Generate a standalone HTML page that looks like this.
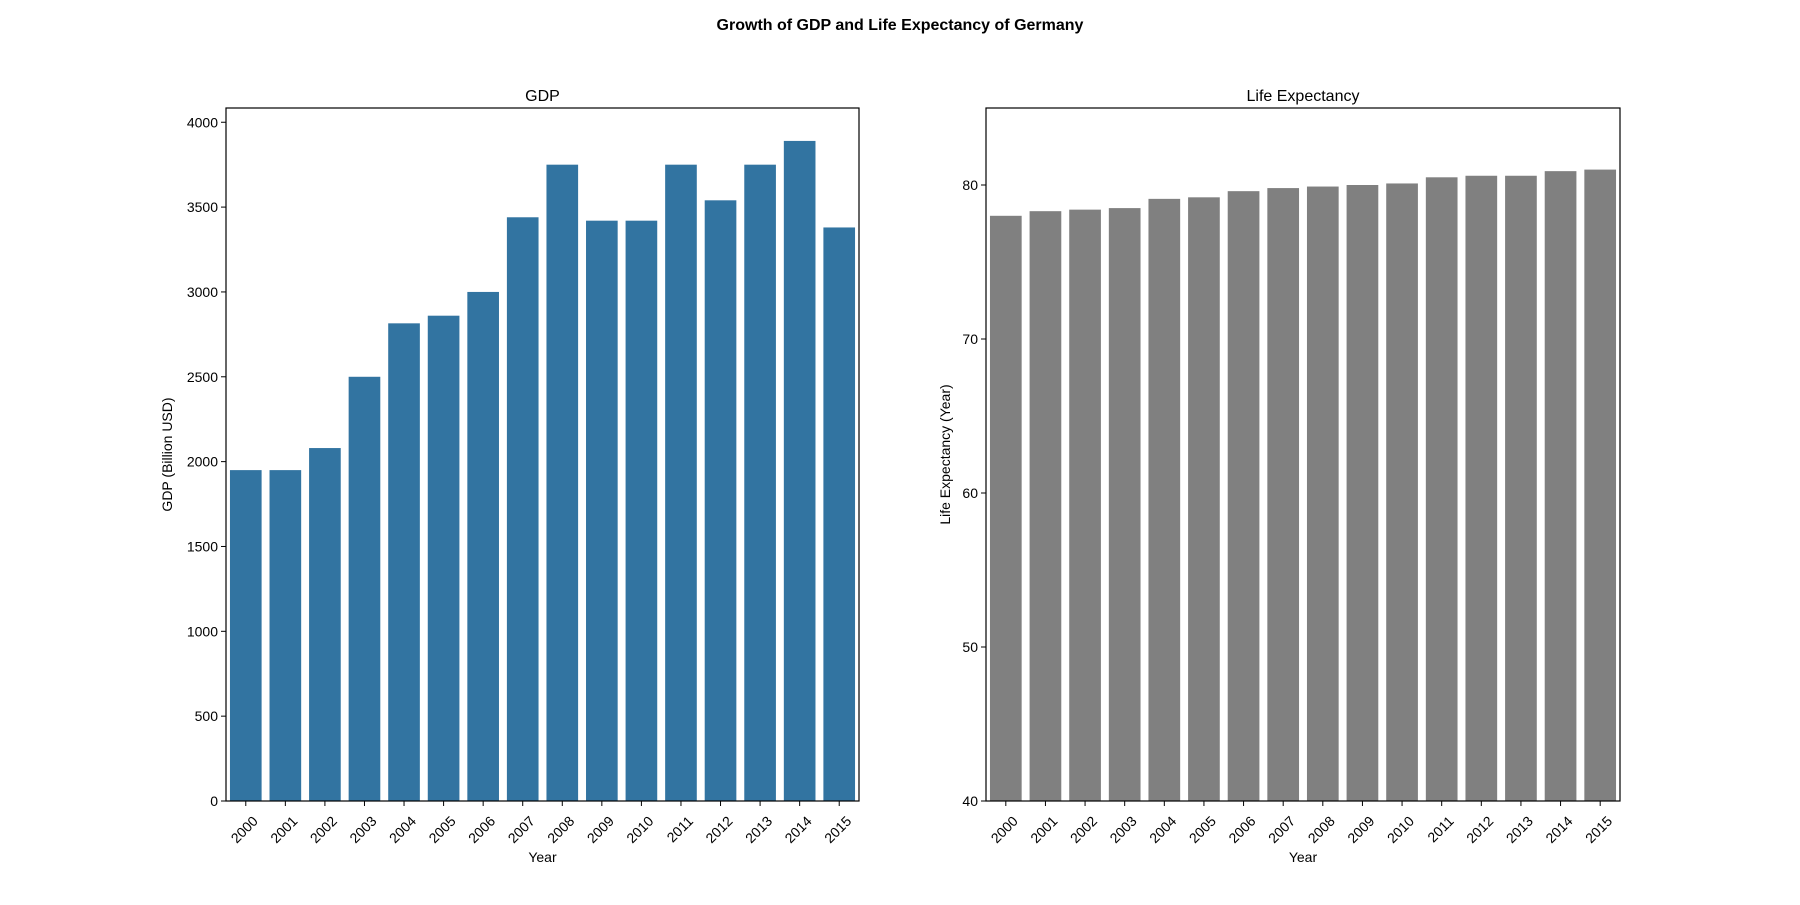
<!DOCTYPE html>
<html><head><meta charset="utf-8"><style>
body{margin:0;background:#fff;}
svg text{font-family:"Liberation Sans","DejaVu Sans",sans-serif;fill:#000;}
</style></head><body>
<svg id="chart" width="1800" height="900" xmlns="http://www.w3.org/2000/svg">
<text x="900" y="30" text-anchor="middle" font-size="16" font-weight="bold">Growth of GDP and Life Expectancy of Germany</text>
</svg>
<script>
const years=["2000","2001","2002","2003","2004","2005","2006","2007","2008","2009","2010","2011","2012","2013","2014","2015"];
const gdpValues=[1950,1950,2080,2500,2815,2860,3000,3440,3750,3420,3420,3750,3540,3750,3890,3380];
const lifeValues=[78.0,78.3,78.4,78.5,79.1,79.2,79.6,79.8,79.9,80.0,80.1,80.5,80.6,80.6,80.9,81.0];
const gdpTicks=[0,500,1000,1500,2000,2500,3000,3500,4000];
const lifeTicks=[40,50,60,70,80];
const svg=document.getElementById('chart');
const NS='http://www.w3.org/2000/svg';
function mk(tag,attrs,parent){const e=document.createElementNS(NS,tag);for(const k in attrs)e.setAttribute(k,attrs[k]);(parent||svg).appendChild(e);return e;}
function panel(cfg){
  const g=mk('g',{});
  
  
  const L=cfg.x0,R=cfg.x1,T=108,B=801;
  const y=v=>B-(v-cfg.ymin)/(cfg.ymax-cfg.ymin)*(B-T);
  const band=(R-L)/cfg.cats.length;
  const x=i=>L+band*(i+0.5);
  cfg.vals.forEach((v,i)=>{
    const r=mk('rect',{x:x(i)-band*0.4,y:y(v),width:band*0.8,height:B-y(v),fill:cfg.color},g);
    
    
  });
  mk('rect',{x:L,y:T,width:R-L,height:B-T,fill:'none',stroke:'#000','stroke-width':1.2},g);
  cfg.cats.forEach((c,i)=>{
    mk('line',{x1:x(i),x2:x(i),y1:B,y2:B+5,stroke:'#000'},g);
    const ax=x(i)+13,ay=B+21;
    const t=mk('text',{x:ax,y:ay,'font-size':14,'text-anchor':'end',transform:`rotate(-45 ${ax} ${ay})`},g);
    t.textContent=c;
    
    
  });
  cfg.ticks.forEach(v=>{
    mk('line',{x1:L-5,x2:L,y1:y(v),y2:y(v),stroke:'#000'},g);
    const t=mk('text',{x:L-8,y:y(v)+5,'font-size':14,'text-anchor':'end'},g);
    t.textContent=v;
    
    
  });
  const tt=mk('text',{x:(L+R)/2,y:101,'font-size':16,'text-anchor':'middle'},g);
  tt.textContent=cfg.title;
  
  
  const xl=mk('text',{x:(L+R)/2,y:862,'font-size':14,'text-anchor':'middle'},g);
  xl.textContent='Year';
  
  
  const yx=cfg.ylabX,yy=(T+B)/2;
  const yl=mk('text',{x:yx,y:yy,'font-size':14,'text-anchor':'middle',transform:`rotate(-90 ${yx} ${yy})`},g);
  yl.textContent=cfg.ylabel;
  
  
}
panel({name:'gdp-panel',x0:226,x1:859,ymin:0,ymax:4084,cats:years,vals:gdpValues,ticks:gdpTicks,color:'#3274a1',title:'GDP',ylabel:'GDP (Billion USD)',ylabX:172});
panel({name:'life-expectancy-panel',x0:986,x1:1620,ymin:40,ymax:85,cats:years,vals:lifeValues,ticks:lifeTicks,color:'#808080',title:'Life Expectancy',ylabel:'Life Expectancy (Year)',ylabX:950});
</script>
</body></html>
